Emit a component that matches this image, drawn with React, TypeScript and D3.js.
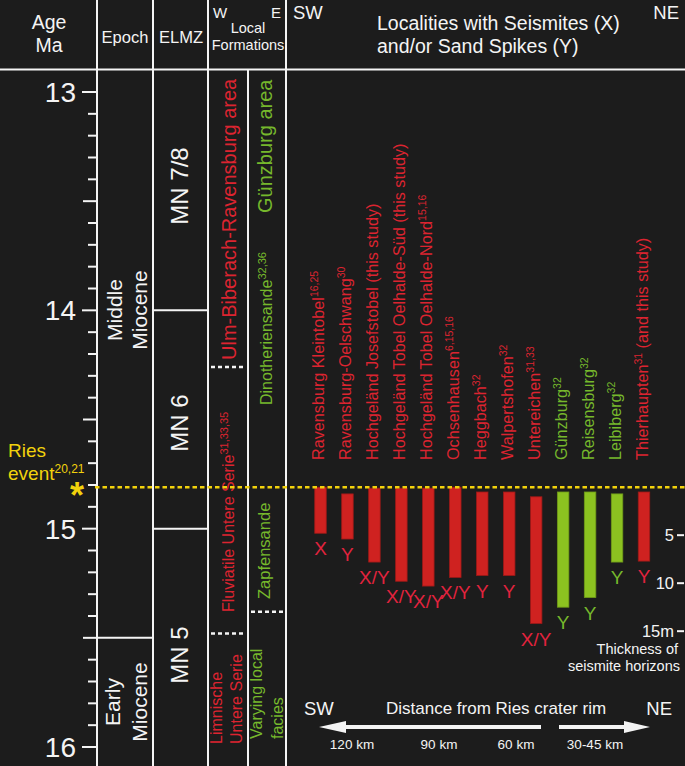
import React from 'react';
import * as d3 from 'd3';

const W = 685;
const H = 766;
const FONT = '"Liberation Sans", Arial, Helvetica, sans-serif';

const BG = '#1c1c1c';
const WHITE = '#f4f4f4';
const YELLOW = '#f2d20c';
const RED_BAR = '#cf2220';
const RED_TXT = '#dc2430';
const GREEN_BAR = '#8cc220';
const GREEN_TXT = '#76b82c';

// localities, ordered SW -> NE
const localities = [
  'Ravensburg Kleintobel',
  'Ravensburg-Oelschwang',
  'Hochgeländ Josefstobel (this study)',
  'Hochgeländ Tobel Oelhalde-Süd (this study)',
  'Hochgeländ Tobel Oelhalde-Nord',
  'Ochsenhausen',
  'Heggbach',
  'Walpertshofen',
  'Untereichen',
  'Günzburg',
  'Reisensburg',
  'Leibiberg',
  'Thierhaupten',
];
const refs = ['16,25', '30', '', '', '15,16', '6,15,16', '32', '32', '31,33', '32', '32', '32', '31'];
const tails = ['', '', '', '', '', '', '', '', '', '', '', '', ' (and this study)'];
const area = ['ubr', 'ubr', 'ubr', 'ubr', 'ubr', 'ubr', 'ubr', 'ubr', 'ubr', 'gz', 'gz', 'gz', 'ubr'];
// seismite horizon top / bottom below the Ries level, metres
const seisTop = [0, 0.7, 0.1, 0.1, 0.1, 0, 0.5, 0.5, 1.0, 0.5, 0.5, 0.7, 0.5];
const seisBottom = [4.8, 5.4, 7.8, 9.8, 10.3, 9.4, 9.2, 9.2, 14.2, 12.5, 11.5, 7.8, 7.7];
const seisType = ['X', 'Y', 'X/Y', 'X/Y', 'X/Y', 'X/Y', 'Y', 'Y', 'X/Y', 'Y', 'Y', 'Y', 'Y'];

const ageMajor = [13, 14, 15, 16];
const thickTicks = [5, 10, 15];
const RIES_AGE = 14.81;
const epochBounds = [15.5];
const elmzBounds = [14.0, 15.0];
const westBounds = [14.26, 15.48];
const eastBounds = [15.38];

const COL = { age: 97, epoch: 153, elmz: 208, split: 248, form: 286 };

const ageY = d3.scaleLinear().domain([13, 16]).range([92, 747]);
const riesY = ageY(RIES_AGE);
const thickY = d3.scaleLinear().domain([0, 15]).range([riesY, riesY + 144]);
const locX = d3.scalePoint<string>().domain(localities).range([320.5, 644]);
const BAR_W = 11.5;

const rot = (x: number, y: number) => `translate(${x},${y}) rotate(-90)`;

export default function App() {
  const minor = ageY.ticks(30).filter((t) => !ageMajor.includes(t));
  const colorBar = (i: number) => (area[i] === 'gz' ? GREEN_BAR : RED_BAR);
  const colorTxt = (i: number) => (area[i] === 'gz' ? GREEN_TXT : RED_TXT);

  return (
    <svg
      width={W}
      height={H}
      style={{ position: 'absolute', left: 0, top: 0, display: 'block' }}
      fontFamily={FONT}
    >
      <rect width={W} height={H} fill={BG} />

      {/* header */}
      <g fill={WHITE}>
        <text x={49} y={29} fontSize={19.5} textAnchor="middle">Age</text>
        <text x={49} y={52} fontSize={19.5} textAnchor="middle">Ma</text>
        <text x={125} y={43} fontSize={16.5} textAnchor="middle">Epoch</text>
        <text x={181} y={43} fontSize={16.5} textAnchor="middle">ELMZ</text>
        <text x={213} y={18} fontSize={15}>W</text>
        <text x={281} y={18} fontSize={15} textAnchor="end">E</text>
        <text x={248} y={33} fontSize={14.5} textAnchor="middle">Local</text>
        <text x={248} y={50} fontSize={14.5} textAnchor="middle">Formations</text>
        <text x={293} y={19} fontSize={18.5}>SW</text>
        <text x={679} y={19} fontSize={18.5} textAnchor="end">NE</text>
        <text x={377} y={30} fontSize={19.5}>Localities with Seismites (X)</text>
        <text x={377} y={53} fontSize={19.5}>and/or Sand Spikes (Y)</text>
      </g>

      {/* grid lines */}
      <g stroke={WHITE} strokeWidth={2}>
        <line x1={0} x2={W} y1={69.5} y2={69.5} />
        {[COL.age, COL.epoch, COL.elmz, COL.form].map((x) => (
          <line key={x} x1={x} x2={x} y1={0} y2={H} />
        ))}
        <line x1={COL.split} x2={COL.split} y1={69} y2={H} />
        {epochBounds.map((a) => (
          <line key={'ep' + a} x1={COL.age} x2={COL.epoch} y1={ageY(a)} y2={ageY(a)} />
        ))}
        {elmzBounds.map((a) => (
          <line key={'el' + a} x1={COL.epoch} x2={COL.elmz} y1={ageY(a)} y2={ageY(a)} />
        ))}
      </g>
      <g stroke={WHITE} strokeWidth={2.5} strokeDasharray="4 3">
        {westBounds.map((a) => (
          <line key={'w' + a} x1={COL.elmz + 3} x2={COL.split - 2} y1={ageY(a)} y2={ageY(a)} />
        ))}
        {eastBounds.map((a) => (
          <line key={'e' + a} x1={COL.split + 3} x2={COL.form - 2} y1={ageY(a)} y2={ageY(a)} />
        ))}
      </g>

      {/* age axis */}
      <g stroke={WHITE} strokeWidth={2}>
        {ageMajor.map((t) => (
          <line key={'M' + t} x1={COL.age - 15} x2={COL.age} y1={ageY(t)} y2={ageY(t)} />
        ))}
        {minor.map((t) => (
          <line
            key={'m' + t}
            x1={COL.age - (Math.abs((t * 10) % 10 - 5) < 0.01 ? 14 : 9)}
            x2={COL.age}
            y1={ageY(t)}
            y2={ageY(t)}
          />
        ))}
      </g>
      <g fill={WHITE} fontSize={28} textAnchor="end">
        {ageMajor.map((t) => (
          <text key={'l' + t} x={76} y={ageY(t) + 10}>{t}</text>
        ))}
      </g>

      {/* epochs */}
      <g fill={WHITE} fontSize={21} textAnchor="middle">
        <text transform={rot(122, 310)}>Middle</text>
        <text transform={rot(147, 310)}>Miocene</text>
        <text transform={rot(120, 702)}>Early</text>
        <text transform={rot(147, 702)}>Miocene</text>
      </g>

      {/* ELMZ */}
      <g fill={WHITE} fontSize={24} textAnchor="middle">
        <text transform={rot(188, 186)}>MN 7/8</text>
        <text transform={rot(188, 423)}>MN 6</text>
        <text transform={rot(188, 655)}>MN 5</text>
      </g>

      {/* local formations, west */}
      <g fill={RED_TXT}>
        <text transform={rot(236, 360)} fontSize={20}>Ulm-Biberach-Ravensburg area</text>
        <text transform={rot(233.5, 612)} fontSize={16}>
          Fluviatile Untere Serie
          <tspan fontSize={11} dy={-6}>31,33,35</tspan>
        </text>
        <text transform={rot(222, 744)} fontSize={16}>Limnische</text>
        <text transform={rot(242, 744)} fontSize={16}>Untere Serie</text>
      </g>
      {/* local formations, east */}
      <g fill={GREEN_TXT}>
        <text transform={rot(272, 213)} fontSize={20}>Günzburg area</text>
        <text transform={rot(272, 405)} fontSize={16}>
          Dinotheriensande
          <tspan fontSize={11} dy={-6}>32,36</tspan>
        </text>
        <text transform={rot(270, 599)} fontSize={16.5}>Zapfensande</text>
        <text transform={rot(262, 739)} fontSize={16}>Varying local</text>
        <text transform={rot(283, 739)} fontSize={16}>facies</text>
      </g>

      {/* Ries event */}
      <g fill={YELLOW}>
        <text x={8} y={457} fontSize={19}>Ries</text>
        <text x={8} y={480} fontSize={19}>
          event
          <tspan fontSize={12} dy={-7}>20,21</tspan>
        </text>
        <text x={70} y={508} fontSize={36} fontWeight="bold">*</text>
      </g>

      {/* locality labels */}
      {localities.map((name, i) => (
        <text
          key={'n' + name}
          transform={rot((locX(name) as number) + 3.5, 460)}
          fill={colorTxt(i)}
          fontSize={16.2}
        >
          {name}
          {refs[i] && (
            <tspan fontSize={10.5} dy={-6}>
              {refs[i]}
            </tspan>
          )}
          {tails[i] && <tspan dy={6}>{tails[i]}</tspan>}
        </text>
      ))}

      {/* seismite bars */}
      {localities.map((name, i) => {
        const cx = locX(name) as number;
        const y0 = thickY(seisTop[i]);
        const y1 = thickY(seisBottom[i]);
        return (
          <g key={'b' + name}>
            <rect
              x={cx - BAR_W / 2}
              y={y0}
              width={BAR_W}
              height={y1 - y0}
              fill={colorBar(i)}
              stroke={area[i] === 'gz' ? '#6f9a18' : '#9c1a18'}
              strokeWidth={0.8}
            />
            <text
              x={cx}
              y={y1 + 22}
              textAnchor="middle"
              fontSize={19}
              fill={area[i] === 'gz' ? GREEN_TXT : '#e2233e'}
            >
              {seisType[i]}
            </text>
          </g>
        );
      })}

      {/* Ries level */}
      <line
        x1={95}
        x2={W}
        y1={riesY}
        y2={riesY}
        stroke={YELLOW}
        strokeWidth={2.5}
        strokeDasharray="4.5 3"
      />

      {/* thickness scale */}
      <g stroke={WHITE} strokeWidth={2}>
        {thickTicks.map((t) => (
          <line key={'t' + t} x1={677} x2={684} y1={thickY(t)} y2={thickY(t)} />
        ))}
      </g>
      <g fill={WHITE} fontSize={16.5} textAnchor="end">
        {thickTicks.map((t, i) => (
          <text key={'tl' + t} x={674} y={thickY(t) + 6}>
            {i === thickTicks.length - 1 ? `${t}m` : t}
          </text>
        ))}
      </g>
      <g fill={WHITE} fontSize={14.5} textAnchor="end">
        <text x={678} y={654}>Thickness of</text>
        <text x={680} y={671}>seismite horizons</text>
      </g>

      {/* distance arrows */}
      <g fill={WHITE}>
        <text x={304} y={715} fontSize={18.5}>SW</text>
        <text x={672} y={715} fontSize={18.5} textAnchor="end">NE</text>
        <text x={386} y={714} fontSize={17}>Distance from Ries crater rim</text>
        <rect x={340} y={725} width={201} height={4} />
        <path d="M319,727 L346,721 L346,733 Z" />
        <rect x={559} y={725} width={68} height={4} />
        <path d="M650,727 L624,721 L624,733 Z" />
      </g>
      <g fill={WHITE} fontSize={13.5} textAnchor="middle">
        <text x={352} y={749}>120 km</text>
        <text x={439} y={749}>90 km</text>
        <text x={516} y={749}>60 km</text>
        <text x={595} y={749}>30-45 km</text>
      </g>
    </svg>
  );
}
